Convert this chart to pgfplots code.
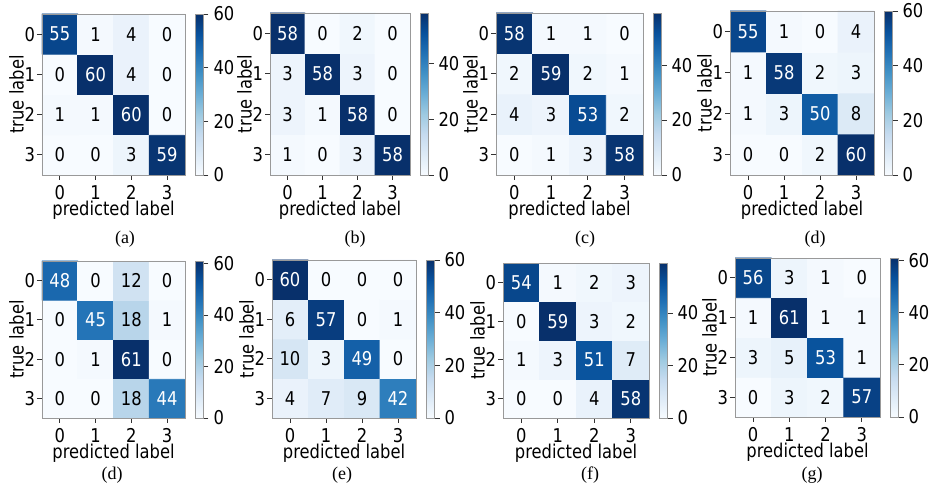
\documentclass[border=0pt]{standalone}
\usepackage{pgfplots}
\usepackage{pgfplotstable}
\pgfplotsset{compat=1.18}
\usepackage{fontspec}
\setmainfont[FakeStretch=0.86]{DejaVu Sans}
\newfontfamily\capfont{Liberation Serif}
\newcommand{\tl}{\fontsize{9.5}{11}\selectfont}

% tables: x = predicted label, y = 3 - true label, c = count
\pgfplotstableread[row sep=\\]{
x y c\\ 0 0 0\\ 1 0 0\\ 2 0 3\\ 3 0 59\\
0 1 1\\ 1 1 1\\ 2 1 60\\ 3 1 0\\
0 2 0\\ 1 2 60\\ 2 2 4\\ 3 2 0\\
0 3 55\\ 1 3 1\\ 2 3 4\\ 3 3 0\\
}\ta
\pgfplotstableread[row sep=\\]{
x y c\\ 0 0 1\\ 1 0 0\\ 2 0 3\\ 3 0 58\\
0 1 3\\ 1 1 1\\ 2 1 58\\ 3 1 0\\
0 2 3\\ 1 2 58\\ 2 2 3\\ 3 2 0\\
0 3 58\\ 1 3 0\\ 2 3 2\\ 3 3 0\\
}\tb
\pgfplotstableread[row sep=\\]{
x y c\\ 0 0 0\\ 1 0 1\\ 2 0 3\\ 3 0 58\\
0 1 4\\ 1 1 3\\ 2 1 53\\ 3 1 2\\
0 2 2\\ 1 2 59\\ 2 2 2\\ 3 2 1\\
0 3 58\\ 1 3 1\\ 2 3 1\\ 3 3 0\\
}\tc
\pgfplotstableread[row sep=\\]{
x y c\\ 0 0 0\\ 1 0 0\\ 2 0 2\\ 3 0 60\\
0 1 1\\ 1 1 3\\ 2 1 50\\ 3 1 8\\
0 2 1\\ 1 2 58\\ 2 2 2\\ 3 2 3\\
0 3 55\\ 1 3 1\\ 2 3 0\\ 3 3 4\\
}\td
\pgfplotstableread[row sep=\\]{
x y c\\ 0 0 0\\ 1 0 0\\ 2 0 18\\ 3 0 44\\
0 1 0\\ 1 1 1\\ 2 1 61\\ 3 1 0\\
0 2 0\\ 1 2 45\\ 2 2 18\\ 3 2 1\\
0 3 48\\ 1 3 0\\ 2 3 12\\ 3 3 0\\
}\tdd
\pgfplotstableread[row sep=\\]{
x y c\\ 0 0 4\\ 1 0 7\\ 2 0 9\\ 3 0 42\\
0 1 10\\ 1 1 3\\ 2 1 49\\ 3 1 0\\
0 2 6\\ 1 2 57\\ 2 2 0\\ 3 2 1\\
0 3 60\\ 1 3 0\\ 2 3 0\\ 3 3 0\\
}\te
\pgfplotstableread[row sep=\\]{
x y c\\ 0 0 0\\ 1 0 0\\ 2 0 4\\ 3 0 58\\
0 1 1\\ 1 1 3\\ 2 1 51\\ 3 1 7\\
0 2 0\\ 1 2 59\\ 2 2 3\\ 3 2 2\\
0 3 54\\ 1 3 1\\ 2 3 2\\ 3 3 3\\
}\tf
\pgfplotstableread[row sep=\\]{
x y c\\ 0 0 0\\ 1 0 3\\ 2 0 2\\ 3 0 57\\
0 1 3\\ 1 1 5\\ 2 1 53\\ 3 1 1\\
0 2 1\\ 1 2 61\\ 2 2 1\\ 3 2 1\\
0 3 56\\ 1 3 3\\ 2 3 1\\ 3 3 0\\
}\tg

\pgfplotsset{
  colormap={blues}{rgb255=(247,251,255) rgb255=(222,235,247) rgb255=(198,219,239) rgb255=(158,202,225) rgb255=(107,174,214) rgb255=(66,146,198) rgb255=(33,113,181) rgb255=(8,81,156) rgb255=(8,48,107)},
  cm/.style={
    scale only axis,
    anchor=south west,
    xmin=-0.5, xmax=3.5, ymin=-0.5, ymax=3.5,
    enlargelimits=false,
    xtick={0,1,2,3}, ytick={0,1,2,3},
    yticklabels={3,2,1,0},
    tick pos=left,
    tick align=outside,
    major tick length=2.5pt,
    tick style={black!80, thin},
    axis line style={gray!80, thin},
    tick label style={font=\tl},
    xticklabel style={yshift=0.8pt},
    yticklabel style={xshift=2.5pt},
    label style={font=\tl},
    /pgf/number format/assume math mode=true,
    xlabel={predicted label},
    ylabel={true label},
    xlabel style={yshift=6pt},
    ylabel style={yshift=-6.5pt},
    axis on top,
    point meta min=0,
    colorbar,
    colorbar shift/.style={xshift=5.25pt},
    colorbar style={
      at={(parent axis.north east)}, anchor=north west,
      width=4pt,
      xlabel={}, ylabel={},
      ytick={0,20,40,60},
      ytick pos=right,
      yticklabel pos=right,
      tick align=outside,
      major tick length=2.5pt,
      tick style={black!80, thin},
      axis line style={gray!80, thin},
      yticklabel style={font=\tl, xshift=-1pt},
      /pgf/number format/assume math mode=true,
    },
  },
  nn/.style={
    draw=none, mark=none,
    point meta=explicit symbolic,
    nodes near coords={\ifnum\pgfplotspointmeta>30 \color{white}\fi\pgfplotspointmeta},
    every node near coord/.style={anchor=center, font=\tl, text=black, inner sep=0pt},
  },
  mp/.style={matrix plot*, mesh/cols=4, point meta=explicit},
}

\begin{document}
\begin{tikzpicture}
\path[use as bounding box] (0,0) rectangle (464.5pt,245pt);

% (a)
\begin{axis}[cm, at={(21pt,157.5pt)}, width=71.5pt, height=80.5pt, point meta max=60]
\addplot[mp] table[meta=c]{\ta};
\addplot[nn] table[meta=c]{\ta};
\end{axis}
% (b)
\begin{axis}[cm, at={(135pt,157.5pt)}, width=70pt, height=81pt, point meta max=58]
\addplot[mp] table[meta=c]{\tb};
\addplot[nn] table[meta=c]{\tb};
\end{axis}
% (c)
\begin{axis}[cm, at={(248pt,157.5pt)}, width=73.5pt, height=81pt, point meta max=59]
\addplot[mp] table[meta=c]{\tc};
\addplot[nn] table[meta=c]{\tc};
\end{axis}
% (d)
\begin{axis}[cm, at={(365pt,157.5pt)}, width=72pt, height=82pt, point meta max=60]
\addplot[mp] table[meta=c]{\td};
\addplot[nn] table[meta=c]{\td};
\end{axis}
% (d) bottom
\begin{axis}[cm, at={(21pt,36pt)}, width=71.5pt, height=78.5pt, point meta max=61]
\addplot[mp] table[meta=c]{\tdd};
\addplot[nn] table[meta=c]{\tdd};
\end{axis}
% (e)
\begin{axis}[cm, at={(136pt,36pt)}, width=72pt, height=79pt, point meta max=60]
\addplot[mp] table[meta=c]{\te};
\addplot[nn] table[meta=c]{\te};
\end{axis}
% (f)
\begin{axis}[cm, at={(251.5pt,36pt)}, width=73pt, height=77.5pt, point meta max=59]
\addplot[mp] table[meta=c]{\tf};
\addplot[nn] table[meta=c]{\tf};
\end{axis}
% (g)
\begin{axis}[cm, at={(367.5pt,36.5pt)}, width=72.5pt, height=79.5pt, point meta max=61]
\addplot[mp] table[meta=c]{\tg};
\addplot[nn] table[meta=c]{\tg};
\end{axis}

\begin{scope}[every node/.style={font=\capfont\fontsize{9}{10}\selectfont, inner sep=0pt}]
\node at (62.5pt,125.5pt) {(a)};
\node at (177.5pt,125.5pt) {(b)};
\node at (292.5pt,125.5pt) {(c)};
\node at (407.5pt,125.5pt) {(d)};
\node at (56pt,7.5pt) {(d)};
\node at (171pt,7.5pt) {(e)};
\node at (295pt,7.5pt) {(f)};
\node at (406pt,7.5pt) {(g)};
\end{scope}
\end{tikzpicture}
\end{document}
